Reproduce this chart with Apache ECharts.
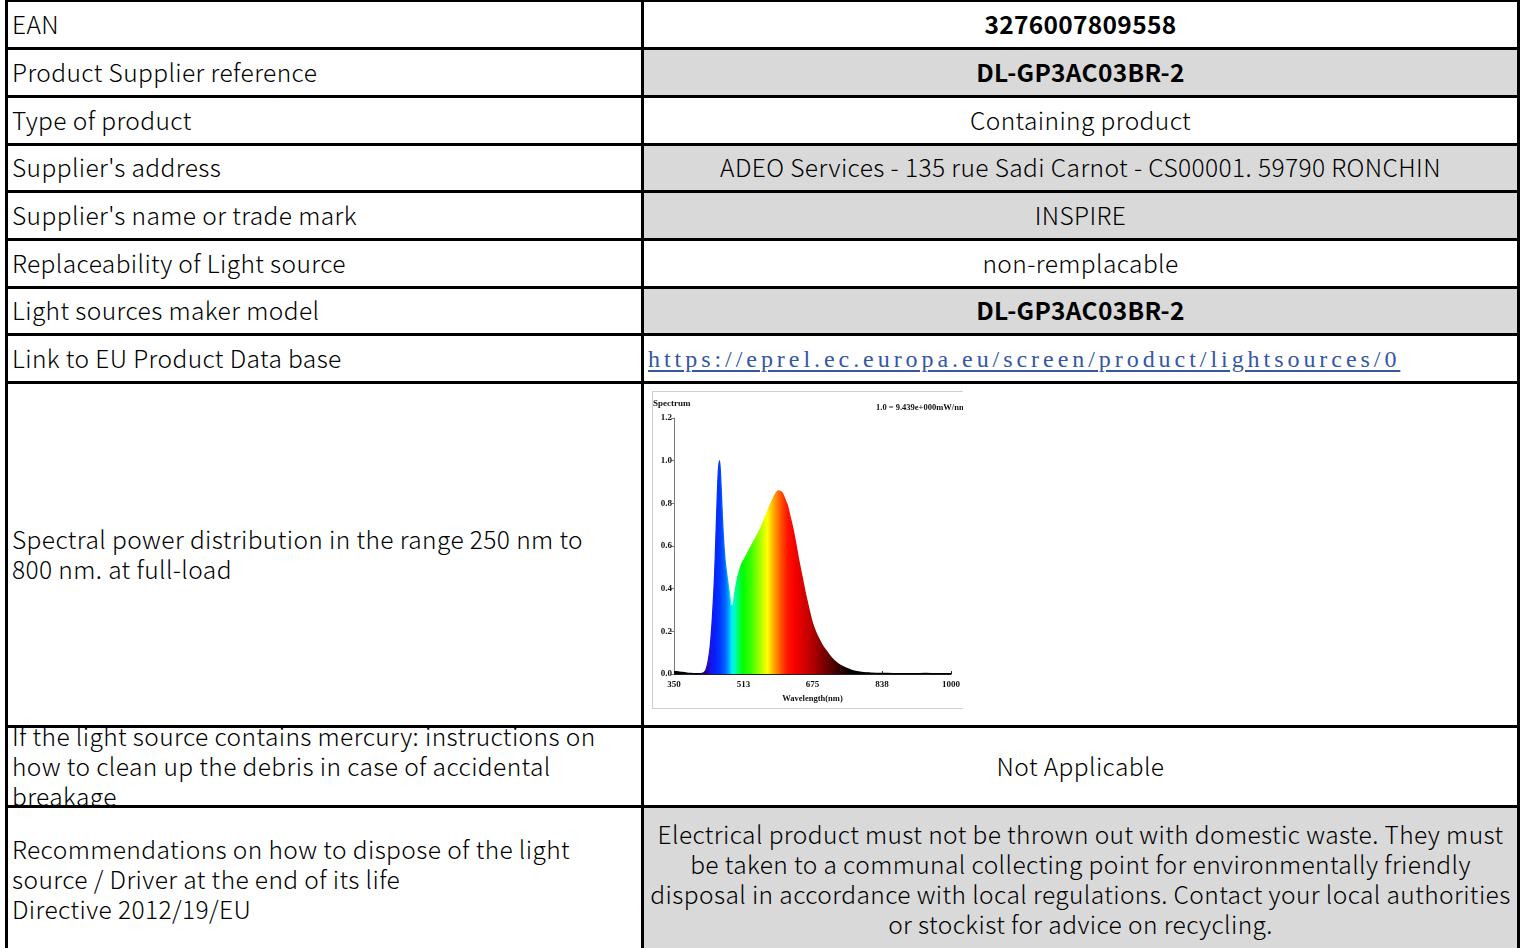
<!DOCTYPE html>
<html>
<head>
<meta charset="utf-8">
<script src="https://cdn.jsdelivr.net/npm/echarts@6/dist/echarts.min.js"></script>
<style>
  html, body { margin:0; padding:0; background:#fff; width:1523px; height:948px; overflow:hidden; }
  #grid { position:absolute; left:5px; top:0; width:1515px; height:952px; background:#000; }
  .cell { position:absolute; display:flex; align-items:center; overflow:hidden; box-sizing:border-box; padding-bottom:2px;
          font-family:"Noto Sans CJK SC","Noto Sans",sans-serif; font-weight:300; font-size:24.5px; letter-spacing:0.4px; line-height:30px; color:#000; white-space:nowrap; background:#fff; }
  .cell .ln { height:30px; }
  .lc { justify-content:flex-start; padding-left:4px; }
  .rc { justify-content:center; text-align:center; }
  .gray { background:#d9d9d9; }
  .bold { font-weight:700; letter-spacing:0.3px; }
  .link { justify-content:flex-start; padding-left:4px; padding-bottom:0; letter-spacing:0; }
  .link a { font-family:"Liberation Serif",serif; font-weight:400; font-size:24px; letter-spacing:3.95px; color:#3356a6; text-decoration:underline; text-underline-offset:3px; }
  #specBox { position:absolute; left:652px; top:391px; width:311px; height:318px; box-sizing:border-box;
             border-top:1px solid #cfcfcf; border-left:1px solid #cfcfcf; border-bottom:1px solid #cfcfcf; background:#fff; }
  #spec { position:absolute; left:653px; top:392px; width:310px; height:316px; }
</style>
</head>
<body>
<div id="grid"></div>
<div id="specBox"></div>
<div id="spec"></div>
<script>
// ---- table content ----
const rowLabels = [
  ["EAN"],
  ["Product Supplier reference"],
  ["Type of product"],
  ["Supplier's address"],
  ["Supplier's name or trade mark"],
  ["Replaceability of Light source"],
  ["Light sources maker model"],
  ["Link to EU Product Data base"],
  ["Spectral power distribution in the range 250 nm to", "800 nm. at full-load"],
  ["If the light source contains mercury: instructions on", "how to clean up the debris in case of accidental", "breakage"],
  ["Recommendations on how to dispose of the light", "source / Driver at the end of its life", "Directive 2012/19/EU"]
];
const rowValues = [
  ["3276007809558"],
  ["DL-GP3AC03BR-2"],
  ["Containing product"],
  ["ADEO Services - 135 rue Sadi Carnot - CS00001. 59790 RONCHIN"],
  ["INSPIRE"],
  ["non-remplacable"],
  ["DL-GP3AC03BR-2"],
  ["https://eprel.ec.europa.eu/screen/product/lightsources/0"],
  [],
  ["Not Applicable"],
  ["Electrical product must not be thrown out with domestic waste. They must",
   "be taken to a communal collecting point for environmentally friendly",
   "disposal in accordance with local regulations. Contact your local authorities",
   "or stockist for advice on recycling."]
];

// ---- spectrum data (normalised) ----
const wavelengths = [350,360,370,380,390,400,410,415,420,425,430,435,440,445,448,451,454,457,460,463,466,470,475,480,485,488,492,497,503,510,518,526,534,542,550,557,565,573,580,587,595,600,605,610,616,622,628,635,642,650,658,666,674,682,690,698,706,715,725,735,745,755,765,780,795,810,830,850,880,910,940,970,1000];
const intensity   = [0.012,0.010,0.008,0.005,0.003,0.002,0.002,0.003,0.006,0.02,0.06,0.13,0.26,0.45,0.62,0.80,0.95,1.00,0.90,0.76,0.64,0.53,0.45,0.38,0.32,0.32,0.37,0.43,0.48,0.52,0.55,0.58,0.61,0.64,0.67,0.70,0.74,0.78,0.81,0.84,0.858,0.855,0.845,0.82,0.79,0.74,0.69,0.62,0.54,0.46,0.38,0.31,0.245,0.20,0.165,0.135,0.112,0.088,0.065,0.048,0.036,0.027,0.019,0.011,0.007,0.005,0.003,0.003,0.002,0.002,0.003,0.002,0.002];
const xTicks = [350, 513, 675, 838, 1000];
const yTickStep = 0.2;

// ---- build table ----
const lineTops = [0,47,95,143,190,238,286,333,381,725,805,952];
const grayRight = [false,true,false,true,true,false,true,false,false,false,true];
const boldRight = [true,true,false,false,false,false,true,false,false,false,false];
const grid = document.getElementById('grid');
const lines = arr => '<div>' + arr.map(t => '<div class="ln">' + t + '</div>').join('') + '</div>';
for (let i = 0; i < rowLabels.length; i++) {
  const top = i === 0 ? 2 : lineTops[i] + 3;
  const h = lineTops[i + 1] - top;
  const l = document.createElement('div');
  l.className = 'cell lc';
  l.style.cssText = `left:3px;top:${top}px;width:633px;height:${h}px;`;
  l.innerHTML = lines(rowLabels[i]);
  grid.appendChild(l);
  const r = document.createElement('div');
  r.className = 'cell ' + (i === 7 ? 'link' : 'rc') + (grayRight[i] ? ' gray' : '') + (boldRight[i] ? ' bold' : '');
  r.style.cssText = `left:639px;top:${top}px;width:873px;height:${h}px;`;
  if (i === 7) {
    r.innerHTML = '<a>' + rowValues[i][0] + '</a>';
  } else if (rowValues[i].length) {
    r.innerHTML = lines(rowValues[i]);
  }
  grid.appendChild(r);
}

// ---- spectrum chart ----
const colorStops = [
  [350,'#000000'],[412,'#05000f'],[424,'#1c0078'],[434,'#2010d8'],[444,'#0a1cff'],[458,'#0038ff'],
  [470,'#0066ff'],[478,'#00a0ff'],[486,'#00f0ff'],[494,'#00ffb0'],[502,'#00ff50'],[512,'#00ff00'],
  [532,'#40ff00'],[552,'#a8ff00'],[569,'#ffff00'],[580,'#ffc000'],[592,'#ff8000'],[604,'#ff4400'],
  [618,'#ff1000'],[636,'#f20000'],[656,'#d40000'],[680,'#a80000'],[705,'#740000'],[730,'#420000'],
  [755,'#140000'],[775,'#000000'],[1000,'#000000']
];
const stops = colorStops.map(c => ({ offset: (c[0] - 350) / 650, color: c[1] }));
const grad = () => new echarts.graphic.LinearGradient(0, 0, 1, 0, stops);

const chart = echarts.init(document.getElementById('spec'), null, { renderer: 'canvas' });
const txt = size => ({ fontFamily: 'Liberation Serif', fontWeight: 'bold', fontSize: size, color: '#111' });
chart.setOption({
  animation: false,
  title: [
    { text: 'Spectrum', left: 0, top: 7, padding: 0, textStyle: txt(9) },
    { text: '1.0 = 9.439e+000mW/nm', left: 223, top: 11, padding: 0, textStyle: txt(8.5) }
  ],
  grid: { left: 21, right: 12, top: 26, bottom: 27 },
  xAxis: {
    type: 'value', min: 350, max: 1000,
    name: 'Wavelength(nm)', nameLocation: 'middle', nameGap: 19,
    nameTextStyle: txt(8.5),
    axisLine: { show: true, lineStyle: { color: '#222', width: 1 } },
    axisTick: { show: true, inside: true, length: 3, customValues: xTicks, lineStyle: { color: '#222' } },
    axisLabel: Object.assign({ customValues: xTicks, margin: 6, formatter: v => String(v) }, txt(9)),
    splitLine: { show: false }
  },
  yAxis: {
    type: 'value', min: 0, max: 1.2, interval: yTickStep,
    axisLine: { show: true, lineStyle: { color: '#777', width: 1 } },
    axisTick: { show: true, length: 3, lineStyle: { color: '#777' } },
    axisLabel: Object.assign({ margin: 2, formatter: v => v.toFixed(1) }, txt(9)),
    splitLine: { show: false }
  },
  series: [{
    type: 'line',
    data: wavelengths.map((w, i) => [w, intensity[i]]),
    showSymbol: false,
    smooth: 0.25,
    lineStyle: { width: 1.3, color: grad() },
    areaStyle: { color: grad(), opacity: 1 }
  }]
});
</script>
</body>
</html>
